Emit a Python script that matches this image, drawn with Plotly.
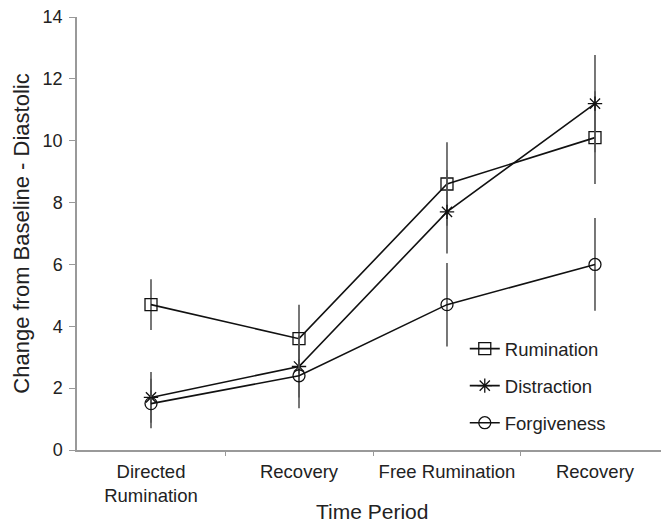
import plotly.graph_objects as go

periods = ["Directed<br>Rumination", "Recovery", "Free Rumination", "Recovery"]
x_pos = [0, 1, 2, 3]

rumination = [4.7, 3.6, 8.6, 10.1]
rumination_err = [0.82, 1.1, 1.35, 1.5]
distraction = [1.7, 2.7, 7.7, 11.2]
distraction_err = [0.82, 1.0, 1.35, 1.57]
forgiveness = [1.5, 2.4, 4.7, 6.0]
forgiveness_err = [0.8, 1.05, 1.35, 1.5]

series = [
    ("Rumination", rumination, rumination_err, "square-open"),
    ("Distraction", distraction, distraction_err, "asterisk-open"),
    ("Forgiveness", forgiveness, forgiveness_err, "circle-open"),
]

fig = go.Figure()
for i, (name, vals, errs, sym) in enumerate(series):
    fig.add_trace(go.Scatter(
        x=x_pos, y=vals, name=name, mode="lines+markers",
        legendgroup=f"g{i}",
        line=dict(color="#111111", width=1.6),
        marker=dict(symbol=sym, size=12, color="#111111",
                    line=dict(color="#111111", width=1.3)),
        error_y=dict(type="data", array=errs, visible=True,
                     color="#555555", thickness=1.6, width=0),
    ))

font_family = "Liberation Sans, Arial, sans-serif"
fig.update_layout(
    width=661, height=524,
    margin=dict(l=77, r=0, t=17, b=74),
    paper_bgcolor="white", plot_bgcolor="white",
    font=dict(family=font_family, size=18.5, color="#222222"),
    showlegend=True,
    legend=dict(x=0.664, y=0.277, xanchor="left", yanchor="top",
                font=dict(size=18.5, color="#222222"),
                bgcolor="rgba(0,0,0,0)", tracegroupgap=10,
                traceorder="grouped"),
    xaxis=dict(
        range=[-0.5, 3.446], tickmode="array", tickvals=x_pos, ticktext=periods,
        ticks="", showline=True, linecolor="#999999", linewidth=1.5,
        showgrid=False, zeroline=False, automargin=False,
        ticklabelstandoff=4, ticklabeloverflow="allow",
        tickfont=dict(size=18.5, color="#222222"),
        minor=dict(tickmode="array", tickvals=[0.5, 1.5, 2.5], ticks="outside",
                   ticklen=4, tickcolor="#999999", showgrid=False),
    ),
    yaxis=dict(
        range=[0, 14], tickmode="array", tickvals=[0, 2, 4, 6, 8, 10, 12, 14],
        ticks="outside", ticklen=6, tickcolor="#999999",
        showline=True, linecolor="#999999", linewidth=1.5,
        showgrid=False, zeroline=False, automargin=False,
        ticklabelstandoff=3, ticklabeloverflow="allow",
        tickfont=dict(size=18, color="#222222"),
        title=dict(text="Change from Baseline - Diastolic", font=dict(size=22, color="#222222"), standoff=7),
    ),
    annotations=[dict(
        text="Time Period", xref="paper", yref="paper", x=0.505, y=-0.143,
        xanchor="center", yanchor="middle", showarrow=False,
        font=dict(size=21, color="#222222"),
    )],
)

fig.write_html(
    "out.html",
    config={"displayModeBar": False},
    post_script="document.body.style.margin='0';document.body.style.overflow='hidden';",
)
